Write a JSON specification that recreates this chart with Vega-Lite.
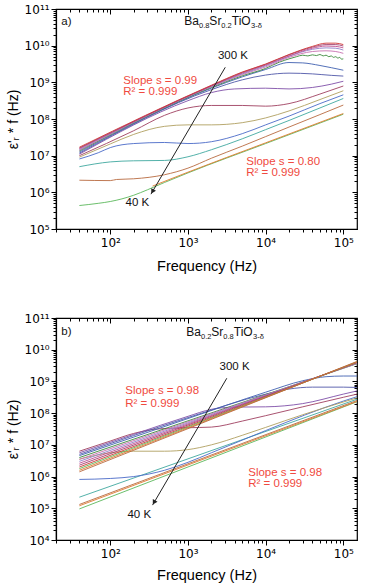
{
"$schema": "https://vega.github.io/schema/vega-lite/v6.json",
"padding": {"left": 5, "top": 2, "right": 4, "bottom": 0},
"spacing": 37,
"config": {"font": "Liberation Sans", "view": {"stroke": "#000", "strokeWidth": 1.2}, "axis": {"grid": false, "domainColor": "#000", "tickColor": "#000", "labelColor": "#000", "titleColor": "#000", "labelFont": "DejaVu Sans", "titleFont": "Liberation Sans", "titleFontWeight": "normal"}},
"datasets": {
"a": [
{"s":"a01","f":40,"v":4.37e5},{"s":"a01","f":70,"v":5.01e5},{"s":"a01","f":100,"v":5.62e5},{"s":"a01","f":200,"v":8.32e5},{"s":"a01","f":300,"v":1.17e6},{"s":"a01","f":500,"v":1.86e6},{"s":"a01","f":1000,"v":3.39e6},{"s":"a01","f":10000,"v":2.14e7},{"s":"a01","f":100000,"v":1.35e8},
{"s":"a02","f":350,"v":1.48e6},{"s":"a02","f":1000,"v":3.55e6},{"s":"a02","f":10000,"v":2.24e7},{"s":"a02","f":100000,"v":1.41e8},
{"s":"a03","f":40,"v":2.14e6},{"s":"a03","f":100,"v":2.09e6},{"s":"a03","f":120,"v":2.24e6},{"s":"a03","f":200,"v":2.34e6},{"s":"a03","f":500,"v":3.02e6},{"s":"a03","f":1000,"v":4.57e6},{"s":"a03","f":2000,"v":8.51e6},{"s":"a03","f":5000,"v":1.82e7},{"s":"a03","f":10000,"v":3.31e7},{"s":"a03","f":20000,"v":6.03e7},{"s":"a03","f":50000,"v":1.32e8},{"s":"a03","f":100000,"v":2.4e8},
{"s":"a04","f":40,"v":5.01e6},{"s":"a04","f":100,"v":6.76e6},{"s":"a04","f":200,"v":7.24e6},{"s":"a04","f":500,"v":7.41e6},{"s":"a04","f":1000,"v":9.33e6},{"s":"a04","f":2000,"v":1.45e7},{"s":"a04","f":5000,"v":2.88e7},{"s":"a04","f":10000,"v":5.13e7},{"s":"a04","f":20000,"v":9.12e7},{"s":"a04","f":50000,"v":2.0e8},{"s":"a04","f":100000,"v":3.63e8},
{"s":"a05","f":40,"v":8.13e6},{"s":"a05","f":70,"v":1.2e7},{"s":"a05","f":100,"v":1.66e7},{"s":"a05","f":200,"v":2.14e7},{"s":"a05","f":500,"v":2.29e7},{"s":"a05","f":1000,"v":2.14e7},{"s":"a05","f":2000,"v":2.4e7},{"s":"a05","f":5000,"v":3.98e7},{"s":"a05","f":10000,"v":6.92e7},{"s":"a05","f":20000,"v":1.2e8},{"s":"a05","f":50000,"v":2.63e8},{"s":"a05","f":100000,"v":4.57e8},
{"s":"a06","f":40,"v":9.12e6},{"s":"a06","f":100,"v":2.09e7},{"s":"a06","f":200,"v":3.8e7},{"s":"a06","f":500,"v":6.31e7},{"s":"a06","f":1000,"v":6.92e7},{"s":"a06","f":2000,"v":6.92e7},{"s":"a06","f":5000,"v":7.94e7},{"s":"a06","f":10000,"v":1.07e8},{"s":"a06","f":20000,"v":1.66e8},{"s":"a06","f":50000,"v":3.39e8},{"s":"a06","f":100000,"v":5.89e8},
{"s":"a07","f":40,"v":1.0e7},{"s":"a07","f":200,"v":4.79e7},{"s":"a07","f":500,"v":1.26e8},{"s":"a07","f":1000,"v":2.0e8},{"s":"a07","f":2000,"v":2.34e8},{"s":"a07","f":5000,"v":2.34e8},{"s":"a07","f":10000,"v":2.24e8},{"s":"a07","f":20000,"v":2.63e8},{"s":"a07","f":50000,"v":4.79e8},{"s":"a07","f":100000,"v":7.94e8},
{"s":"a08","f":40,"v":1.1e7},{"s":"a08","f":1000,"v":3.16e8},{"s":"a08","f":2000,"v":5.25e8},{"s":"a08","f":4000,"v":6.61e8},{"s":"a08","f":10000,"v":6.92e8},{"s":"a08","f":20000,"v":6.61e8},{"s":"a08","f":40000,"v":7.24e8},{"s":"a08","f":70000,"v":8.91e8},{"s":"a08","f":100000,"v":1.07e9},
{"s":"a09","f":40,"v":1.17e7},{"s":"a09","f":2000,"v":6.31e8},{"s":"a09","f":5000,"v":1.17e9},{"s":"a09","f":10000,"v":1.58e9},{"s":"a09","f":20000,"v":1.78e9},{"s":"a09","f":40000,"v":1.7e9},{"s":"a09","f":70000,"v":1.55e9},{"s":"a09","f":100000,"v":1.48e9},
{"s":"a10","f":40,"v":1.26e7},{"s":"a10","f":2000,"v":6.92e8},{"s":"a10","f":5000,"v":1.41e9},{"s":"a10","f":10000,"v":2.24e9},{"s":"a10","f":20000,"v":3.47e9},{"s":"a10","f":30000,"v":3.39e9},{"s":"a10","f":50000,"v":2.88e9},{"s":"a10","f":70000,"v":2.51e9},{"s":"a10","f":100000,"v":2.14e9},
{"s":"a11","f":40,"v":1.35e7},{"s":"a11","f":2000,"v":7.24e8},{"s":"a11","f":5000,"v":1.51e9},{"s":"a11","f":10000,"v":2.4e9},{"s":"a11","f":15000,"v":3.55e9},{"s":"a11","f":20000,"v":4.37e9},{"s":"a11","f":25000,"v":5.01e9},{"s":"a11","f":30000,"v":5.5e9},{"s":"a11","f":35000,"v":5.25e9},{"s":"a11","f":40000,"v":5.62e9},{"s":"a11","f":45000,"v":5.37e9},{"s":"a11","f":50000,"v":5.75e9},{"s":"a11","f":55000,"v":5.25e9},{"s":"a11","f":60000,"v":5.5e9},{"s":"a11","f":65000,"v":5.01e9},{"s":"a11","f":70000,"v":5.25e9},{"s":"a11","f":75000,"v":4.79e9},{"s":"a11","f":80000,"v":5.01e9},{"s":"a11","f":85000,"v":4.57e9},{"s":"a11","f":90000,"v":4.79e9},{"s":"a11","f":95000,"v":4.27e9},{"s":"a11","f":100000,"v":4.37e9},
{"s":"a12","f":40,"v":1.41e7},{"s":"a12","f":2000,"v":7.59e8},{"s":"a12","f":5000,"v":1.62e9},{"s":"a12","f":10000,"v":2.63e9},{"s":"a12","f":20000,"v":4.79e9},{"s":"a12","f":40000,"v":6.92e9},{"s":"a12","f":60000,"v":7.24e9},{"s":"a12","f":80000,"v":6.92e9},{"s":"a12","f":100000,"v":6.17e9},
{"s":"a13","f":40,"v":1.48e7},{"s":"a13","f":2000,"v":7.76e8},{"s":"a13","f":5000,"v":1.7e9},{"s":"a13","f":10000,"v":2.82e9},{"s":"a13","f":20000,"v":5.13e9},{"s":"a13","f":40000,"v":7.94e9},{"s":"a13","f":60000,"v":8.71e9},{"s":"a13","f":80000,"v":8.51e9},{"s":"a13","f":100000,"v":7.59e9},
{"s":"a14","f":40,"v":1.55e7},{"s":"a14","f":2000,"v":7.94e8},{"s":"a14","f":5000,"v":1.78e9},{"s":"a14","f":10000,"v":2.95e9},{"s":"a14","f":20000,"v":5.25e9},{"s":"a14","f":40000,"v":8.51e9},{"s":"a14","f":60000,"v":9.77e9},{"s":"a14","f":80000,"v":9.55e9},{"s":"a14","f":100000,"v":8.71e9},
{"s":"a15","f":40,"v":1.62e7},{"s":"a15","f":2000,"v":8.13e8},{"s":"a15","f":5000,"v":1.86e9},{"s":"a15","f":10000,"v":3.09e9},{"s":"a15","f":20000,"v":5.62e9},{"s":"a15","f":40000,"v":9.12e9},{"s":"a15","f":60000,"v":1.07e10},{"s":"a15","f":80000,"v":1.07e10},{"s":"a15","f":100000,"v":9.77e9},
{"s":"a16","f":40,"v":1.7e7},{"s":"a16","f":2000,"v":8.32e8},{"s":"a16","f":5000,"v":1.91e9},{"s":"a16","f":10000,"v":3.16e9},{"s":"a16","f":20000,"v":5.75e9},{"s":"a16","f":40000,"v":9.55e9},{"s":"a16","f":60000,"v":1.17e10},{"s":"a16","f":80000,"v":1.17e10},{"s":"a16","f":100000,"v":1.07e10}
],
"b": [
{"s":"b01","f":40,"v":9.55e4},{"s":"b01","f":150000,"v":2.29e8},
{"s":"b02","f":40,"v":1.2e5},{"s":"b02","f":150000,"v":2.34e8},
{"s":"b03","f":40,"v":1.32e5},{"s":"b03","f":150000,"v":2.51e8},
{"s":"b04","f":40,"v":2.24e5},{"s":"b04","f":150000,"v":2.75e8},
{"s":"b05","f":40,"v":8.13e5},{"s":"b05","f":100,"v":8.71e5},{"s":"b05","f":200,"v":1.0e6},{"s":"b05","f":500,"v":1.58e6},{"s":"b05","f":1000,"v":2.82e6},{"s":"b05","f":2000,"v":5.62e6},{"s":"b05","f":5000,"v":1.41e7},{"s":"b05","f":10000,"v":2.82e7},{"s":"b05","f":100000,"v":2.4e8},{"s":"b05","f":150000,"v":3.31e8},
{"s":"b06","f":40,"v":3.55e6},{"s":"b06","f":100,"v":5.62e6},{"s":"b06","f":200,"v":6.31e6},{"s":"b06","f":500,"v":6.31e6},{"s":"b06","f":1000,"v":7.08e6},{"s":"b06","f":2000,"v":1.0e7},{"s":"b06","f":5000,"v":2.0e7},{"s":"b06","f":10000,"v":3.55e7},{"s":"b06","f":30000,"v":8.91e7},{"s":"b06","f":100000,"v":2.24e8},{"s":"b06","f":150000,"v":3.02e8},
{"s":"b07","f":40,"v":6.31e6},{"s":"b07","f":100,"v":1.32e7},{"s":"b07","f":200,"v":2.29e7},{"s":"b07","f":400,"v":3.16e7},{"s":"b07","f":1000,"v":3.47e7},{"s":"b07","f":2000,"v":3.63e7},{"s":"b07","f":5000,"v":5.62e7},{"s":"b07","f":10000,"v":8.32e7},{"s":"b07","f":30000,"v":1.58e8},{"s":"b07","f":100000,"v":3.16e8},{"s":"b07","f":150000,"v":3.98e8},
{"s":"b08","f":40,"v":5.62e6},{"s":"b08","f":200,"v":2.14e7},{"s":"b08","f":1000,"v":7.94e7},{"s":"b08","f":2000,"v":1.32e8},{"s":"b08","f":4000,"v":1.55e8},{"s":"b08","f":10000,"v":1.58e8},{"s":"b08","f":30000,"v":2.0e8},{"s":"b08","f":100000,"v":3.98e8},{"s":"b08","f":150000,"v":5.01e8},
{"s":"b09","f":40,"v":5.01e6},{"s":"b09","f":1000,"v":7.24e7},{"s":"b09","f":10000,"v":3.98e8},{"s":"b09","f":20000,"v":5.75e8},{"s":"b09","f":40000,"v":6.61e8},{"s":"b09","f":100000,"v":6.61e8},{"s":"b09","f":150000,"v":6.46e8},
{"s":"b10","f":40,"v":4.57e6},{"s":"b10","f":1000,"v":6.76e7},{"s":"b10","f":10000,"v":4.57e8},{"s":"b10","f":30000,"v":1.05e9},{"s":"b10","f":60000,"v":1.41e9},{"s":"b10","f":100000,"v":1.48e9},{"s":"b10","f":150000,"v":1.48e9},
{"s":"b11","f":40,"v":3.98e6},{"s":"b11","f":150000,"v":3.63e9},
{"s":"b12","f":40,"v":3.47e6},{"s":"b12","f":150000,"v":3.72e9},
{"s":"b13","f":40,"v":3.02e6},{"s":"b13","f":150000,"v":3.8e9},
{"s":"b14","f":40,"v":2.63e6},{"s":"b14","f":150000,"v":3.89e9},
{"s":"b15","f":40,"v":2.29e6},{"s":"b15","f":150000,"v":3.98e9},
{"s":"b16","f":40,"v":2.0e6},{"s":"b16","f":150000,"v":3.98e9},
{"s":"b17","f":40,"v":1.78e6},{"s":"b17","f":150000,"v":4.07e9},
{"s":"b18","f":40,"v":1.58e6},{"s":"b18","f":150000,"v":4.17e9},
{"s":"b19","f":40,"v":1.41e6},{"s":"b19","f":150000,"v":4.27e9}
]
},
"vconcat": [
{
"width": 301, "height": 220,
"data": {"name": "a"},
"encoding": {
 "x": {"field": "f", "type": "quantitative", "scale": {"type": "log", "domain": [20, 150000], "nice": false}, "axis": null},
 "y": {"field": "v", "type": "quantitative", "scale": {"type": "log", "domain": [1e5, 1e11], "nice": false}, "axis": null}
},
"resolve": {"axis": {"x": "independent", "y": "independent"}},
"layer": [
 {"mark": {"type": "line", "strokeWidth": 1, "opacity": 0.9, "interpolate": "monotone", "clip": true},
  "encoding": {
   "x": {"field": "f", "type": "quantitative", "scale": {"type": "log", "domain": [20, 150000], "nice": false},
     "axis": {"title": "Frequency (Hz)", "titleFontSize": 14.5, "titlePadding": 11, "labelFontSize": 12, "labelPadding": 3, "labelOverlap": false, "labelFlush": false, "labelBound": false, "domainWidth": 1.2,
       "values": [20,30,40,50,60,70,80,90,100,200,300,400,500,600,700,800,900,1000,2000,3000,4000,5000,6000,7000,8000,9000,10000,20000,30000,40000,50000,60000,70000,80000,90000,100000],
       "tickSize": {"condition": {"test": "abs(log(datum.value)/LN10 - round(log(datum.value)/LN10)) < 0.001", "value": 5}, "value": 3},
       "labelExpr": "abs(log(datum.value)/LN10 - round(log(datum.value)/LN10)) < 0.001 ? ('10' + (round(log(datum.value)/LN10) > 9 ? '¹' + substring('⁰¹²³⁴⁵⁶⁷⁸⁹', round(log(datum.value)/LN10) - 10, round(log(datum.value)/LN10) - 9) : substring('⁰¹²³⁴⁵⁶⁷⁸⁹', round(log(datum.value)/LN10), round(log(datum.value)/LN10) + 1))) : ''"}},
   "y": {"field": "v", "type": "quantitative", "scale": {"type": "log", "domain": [1e5, 1e11], "nice": false},
     "axis": {"title": "ε'ᵣ * f (Hz)", "titleFontSize": 14, "titlePadding": 4, "labelFontSize": 12, "labelPadding": 2, "labelOverlap": false, "labelFlush": false, "labelBound": false, "domainWidth": 1.2,
       "values": [1e5,2e5,3e5,4e5,5e5,6e5,7e5,8e5,9e5,1e6,2e6,3e6,4e6,5e6,6e6,7e6,8e6,9e6,1e7,2e7,3e7,4e7,5e7,6e7,7e7,8e7,9e7,1e8,2e8,3e8,4e8,5e8,6e8,7e8,8e8,9e8,1e9,2e9,3e9,4e9,5e9,6e9,7e9,8e9,9e9,1e10,2e10,3e10,4e10,5e10,6e10,7e10,8e10,9e10,1e11],
       "tickSize": {"condition": {"test": "abs(log(datum.value)/LN10 - round(log(datum.value)/LN10)) < 0.001", "value": 5}, "value": 3},
       "labelExpr": "abs(log(datum.value)/LN10 - round(log(datum.value)/LN10)) < 0.001 ? ('10' + (round(log(datum.value)/LN10) > 9 ? '¹' + substring('⁰¹²³⁴⁵⁶⁷⁸⁹', round(log(datum.value)/LN10) - 10, round(log(datum.value)/LN10) - 9) : substring('⁰¹²³⁴⁵⁶⁷⁸⁹', round(log(datum.value)/LN10), round(log(datum.value)/LN10) + 1))) : ''"}},
   "color": {"field": "s", "type": "nominal", "legend": null, "scale": {
     "domain": ["a01","a02","a03","a04","a05","a06","a07","a08","a09","a10","a11","a12","a13","a14","a15","a16"],
     "range": ["#5cb85c","#e07a30","#b86a40","#40a8a0","#4a6ac8","#b0a060","#a04060","#8050a8","#5058a8","#4060b0","#3a8a3a","#c870b0","#9080c8","#c05090","#a04070","#d03838"]}}
  }},
 {"mark": {"type": "point", "opacity": 0, "size": 1},
  "encoding": {
   "x": {"field": "f", "type": "quantitative", "scale": {"type": "log", "domain": [20, 150000], "nice": false},
     "axis": {"orient": "top", "labels": false, "domain": false, "title": null,
       "values": [20,30,40,50,60,70,80,90,100,200,300,400,500,600,700,800,900,1000,2000,3000,4000,5000,6000,7000,8000,9000,10000,20000,30000,40000,50000,60000,70000,80000,90000,100000],
       "tickSize": {"condition": {"test": "abs(log(datum.value)/LN10 - round(log(datum.value)/LN10)) < 0.001", "value": -5}, "value": -3}}},
   "y": {"field": "v", "type": "quantitative", "scale": {"type": "log", "domain": [1e5, 1e11], "nice": false},
     "axis": {"orient": "right", "labels": false, "domain": false, "title": null,
       "values": [1e5,2e5,3e5,4e5,5e5,6e5,7e5,8e5,9e5,1e6,2e6,3e6,4e6,5e6,6e6,7e6,8e6,9e6,1e7,2e7,3e7,4e7,5e7,6e7,7e7,8e7,9e7,1e8,2e8,3e8,4e8,5e8,6e8,7e8,8e8,9e8,1e9,2e9,3e9,4e9,5e9,6e9,7e9,8e9,9e9,1e10,2e10,3e10,4e10,5e10,6e10,7e10,8e10,9e10,1e11],
       "tickSize": {"condition": {"test": "abs(log(datum.value)/LN10 - round(log(datum.value)/LN10)) < 0.001", "value": -5}, "value": -3}}}
  }},
 {"data": {"values": [{"f":3020,"v":2.57e9},{"f":334,"v":8.91e5}]},
  "mark": {"type": "line", "color": "#222", "strokeWidth": 1}, "encoding": {}},
 {"data": {"values": [{"f":349,"v":1.05e6}]},
  "mark": {"type": "point", "shape": "triangle-up", "angle": 210, "size": 30, "filled": true, "opacity": 1, "color": "#222"}, "encoding": {}},
 {"data": {"values": [{"f":147,"v":1.1e9,"t":"Slope s = 0.99"},{"f":147,"v":5.37e8,"t":"R² = 0.999"},{"f":5620,"v":6.61e6,"t":"Slope s = 0.80"},{"f":5620,"v":3.39e6,"t":"R² = 0.999"}]},
  "mark": {"type": "text", "font": "Liberation Sans", "fontSize": 11.5, "color": "#f04a40", "align": "left", "baseline": "middle"},
  "encoding": {"text": {"field": "t"}}},
 {"data": {"values": [{"f":3800,"v":5.13e9,"t":"300 K"},{"f":223,"v":5.13e5,"t":"40 K"},{"f":27.2,"v":4.47e10,"t":"a)"}]},
  "mark": {"type": "text", "font": "Liberation Sans", "fontSize": 11.5, "color": "#111", "align": "center", "baseline": "middle"},
  "encoding": {"text": {"field": "t"}}},
 {"data": {"values": [{"f":896,"v":4.68e10,"t":"Ba"},{"f":1886,"v":4.68e10,"t":"Sr"},{"f":3662,"v":4.68e10,"t":"TiO"}]},
  "mark": {"type": "text", "font": "Liberation Sans", "fontSize": 12, "color": "#111", "align": "left", "baseline": "middle"},
  "encoding": {"text": {"field": "t"}}},
 {"data": {"values": [{"f":1386,"v":4.68e10,"t":"0.8"},{"f":2691,"v":4.68e10,"t":"0.2"},{"f":6489,"v":4.68e10,"t":"3-δ"}]},
  "mark": {"type": "text", "font": "Liberation Sans", "fontSize": 7.5, "color": "#111", "align": "left", "baseline": "middle", "dy": 5},
  "encoding": {"text": {"field": "t"}}}
]
},
{
"width": 301, "height": 222,
"data": {"name": "b"},
"encoding": {
 "x": {"field": "f", "type": "quantitative", "scale": {"type": "log", "domain": [20, 150000], "nice": false}, "axis": null},
 "y": {"field": "v", "type": "quantitative", "scale": {"type": "log", "domain": [1e4, 1e11], "nice": false}, "axis": null}
},
"resolve": {"axis": {"x": "independent", "y": "independent"}},
"layer": [
 {"mark": {"type": "line", "strokeWidth": 1, "opacity": 0.9, "interpolate": "monotone", "clip": true},
  "encoding": {
   "x": {"field": "f", "type": "quantitative", "scale": {"type": "log", "domain": [20, 150000], "nice": false},
     "axis": {"title": "Frequency (Hz)", "titleFontSize": 14.5, "titlePadding": 9, "labelFontSize": 12, "labelPadding": 3, "labelOverlap": false, "labelFlush": false, "labelBound": false, "domainWidth": 1.2,
       "values": [20,30,40,50,60,70,80,90,100,200,300,400,500,600,700,800,900,1000,2000,3000,4000,5000,6000,7000,8000,9000,10000,20000,30000,40000,50000,60000,70000,80000,90000,100000],
       "tickSize": {"condition": {"test": "abs(log(datum.value)/LN10 - round(log(datum.value)/LN10)) < 0.001", "value": 5}, "value": 3},
       "labelExpr": "abs(log(datum.value)/LN10 - round(log(datum.value)/LN10)) < 0.001 ? ('10' + (round(log(datum.value)/LN10) > 9 ? '¹' + substring('⁰¹²³⁴⁵⁶⁷⁸⁹', round(log(datum.value)/LN10) - 10, round(log(datum.value)/LN10) - 9) : substring('⁰¹²³⁴⁵⁶⁷⁸⁹', round(log(datum.value)/LN10), round(log(datum.value)/LN10) + 1))) : ''"}},
   "y": {"field": "v", "type": "quantitative", "scale": {"type": "log", "domain": [1e4, 1e11], "nice": false},
     "axis": {"title": "ε'ᵣ * f (Hz)", "titleFontSize": 14, "titlePadding": 4, "labelFontSize": 12, "labelPadding": 2, "labelOverlap": false, "labelFlush": false, "labelBound": false, "domainWidth": 1.2,
       "values": [1e4,2e4,3e4,4e4,5e4,6e4,7e4,8e4,9e4,1e5,2e5,3e5,4e5,5e5,6e5,7e5,8e5,9e5,1e6,2e6,3e6,4e6,5e6,6e6,7e6,8e6,9e6,1e7,2e7,3e7,4e7,5e7,6e7,7e7,8e7,9e7,1e8,2e8,3e8,4e8,5e8,6e8,7e8,8e8,9e8,1e9,2e9,3e9,4e9,5e9,6e9,7e9,8e9,9e9,1e10,2e10,3e10,4e10,5e10,6e10,7e10,8e10,9e10,1e11],
       "tickSize": {"condition": {"test": "abs(log(datum.value)/LN10 - round(log(datum.value)/LN10)) < 0.001", "value": 5}, "value": 3},
       "labelExpr": "abs(log(datum.value)/LN10 - round(log(datum.value)/LN10)) < 0.001 ? ('10' + (round(log(datum.value)/LN10) > 9 ? '¹' + substring('⁰¹²³⁴⁵⁶⁷⁸⁹', round(log(datum.value)/LN10) - 10, round(log(datum.value)/LN10) - 9) : substring('⁰¹²³⁴⁵⁶⁷⁸⁹', round(log(datum.value)/LN10), round(log(datum.value)/LN10) + 1))) : ''"}},
   "color": {"field": "s", "type": "nominal", "legend": null, "scale": {
     "domain": ["b01","b02","b03","b04","b05","b06","b07","b08","b09","b10","b11","b12","b13","b14","b15","b16","b17","b18","b19"],
     "range": ["#58b058","#c07040","#e89040","#40b0b0","#4a4aa8","#b8b070","#b04a6a","#9a4a9a","#8a5ab0","#6a6ac8","#6a78c8","#8a78c8","#a078c0","#b078b8","#c078b0","#c86aa0","#d06a90","#d85a78","#e03a3a"]}}
  }},
 {"mark": {"type": "point", "opacity": 0, "size": 1},
  "encoding": {
   "x": {"field": "f", "type": "quantitative", "scale": {"type": "log", "domain": [20, 150000], "nice": false},
     "axis": {"orient": "top", "labels": false, "domain": false, "title": null,
       "values": [20,30,40,50,60,70,80,90,100,200,300,400,500,600,700,800,900,1000,2000,3000,4000,5000,6000,7000,8000,9000,10000,20000,30000,40000,50000,60000,70000,80000,90000,100000],
       "tickSize": {"condition": {"test": "abs(log(datum.value)/LN10 - round(log(datum.value)/LN10)) < 0.001", "value": -5}, "value": -3}}},
   "y": {"field": "v", "type": "quantitative", "scale": {"type": "log", "domain": [1e4, 1e11], "nice": false},
     "axis": {"orient": "right", "labels": false, "domain": false, "title": null,
       "values": [1e4,2e4,3e4,4e4,5e4,6e4,7e4,8e4,9e4,1e5,2e5,3e5,4e5,5e5,6e5,7e5,8e5,9e5,1e6,2e6,3e6,4e6,5e6,6e6,7e6,8e6,9e6,1e7,2e7,3e7,4e7,5e7,6e7,7e7,8e7,9e7,1e8,2e8,3e8,4e8,5e8,6e8,7e8,8e8,9e8,1e9,2e9,3e9,4e9,5e9,6e9,7e9,8e9,9e9,1e10,2e10,3e10,4e10,5e10,6e10,7e10,8e10,9e10,1e11],
       "tickSize": {"condition": {"test": "abs(log(datum.value)/LN10 - round(log(datum.value)/LN10)) < 0.001", "value": -5}, "value": -3}}}
  }},
 {"data": {"values": [{"f":3160,"v":1.26e9},{"f":350,"v":1.26e5}]},
  "mark": {"type": "line", "color": "#222", "strokeWidth": 1}, "encoding": {}},
 {"data": {"values": [{"f":365,"v":1.52e5}]},
  "mark": {"type": "point", "shape": "triangle-up", "angle": 210, "size": 30, "filled": true, "opacity": 1, "color": "#222"}, "encoding": {}},
 {"data": {"values": [{"f":156,"v":5.01e8,"t":"Slope s = 0.98"},{"f":156,"v":1.91e8,"t":"R² = 0.999"},{"f":5970,"v":1.32e6,"t":"Slope s = 0.98"},{"f":5970,"v":5.75e5,"t":"R² = 0.999"}]},
  "mark": {"type": "text", "font": "Liberation Sans", "fontSize": 11.5, "color": "#f04a40", "align": "left", "baseline": "middle"},
  "encoding": {"text": {"field": "t"}}},
 {"data": {"values": [{"f":3980,"v":2.82e9,"t":"300 K"},{"f":236,"v":6.17e4,"t":"40 K"},{"f":27.2,"v":3.72e10,"t":"b)"}]},
  "mark": {"type": "text", "font": "Liberation Sans", "fontSize": 11.5, "color": "#111", "align": "center", "baseline": "middle"},
  "encoding": {"text": {"field": "t"}}},
 {"data": {"values": [{"f":951,"v":3.72e10,"t":"Ba"},{"f":2001,"v":3.72e10,"t":"Sr"},{"f":3886,"v":3.72e10,"t":"TiO"}]},
  "mark": {"type": "text", "font": "Liberation Sans", "fontSize": 12, "color": "#111", "align": "left", "baseline": "middle"},
  "encoding": {"text": {"field": "t"}}},
 {"data": {"values": [{"f":1471,"v":3.72e10,"t":"0.2"},{"f":2855,"v":3.72e10,"t":"0.8"},{"f":6885,"v":3.72e10,"t":"3-δ"}]},
  "mark": {"type": "text", "font": "Liberation Sans", "fontSize": 7.5, "color": "#111", "align": "left", "baseline": "middle", "dy": 5},
  "encoding": {"text": {"field": "t"}}}
]
}
]
}
